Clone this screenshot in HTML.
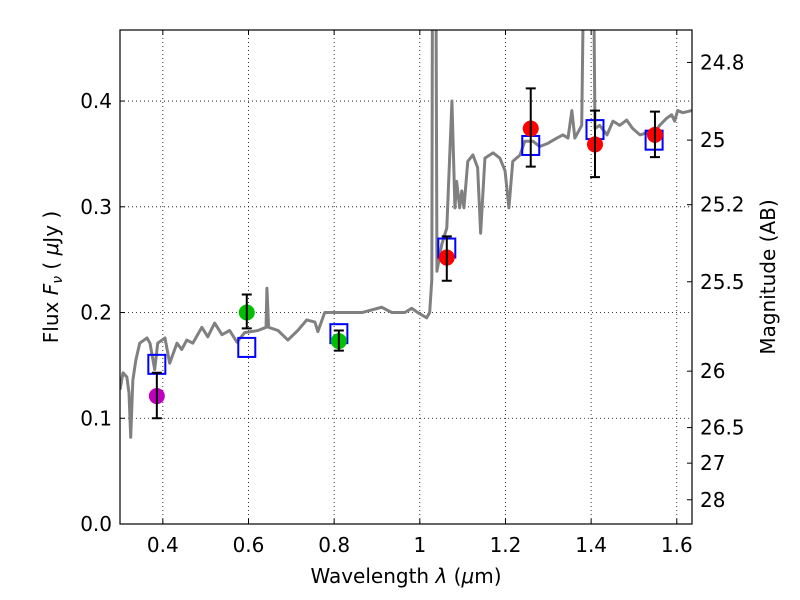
<!DOCTYPE html>
<html><head><meta charset="utf-8"><style>
html,body{margin:0;padding:0;background:#fff}
svg{display:block}
text{font-family:"DejaVu Sans","Liberation Sans",sans-serif;font-size:20px;fill:#000}
</style></head><body>
<svg id="chart" width="800" height="600" viewBox="0 0 800 600"></svg>
<script>
const specWave=[0.300,0.307,0.316,0.321,0.325,0.330,0.337,0.346,0.363,0.370,0.381,0.388,0.405,0.416,0.433,0.444,0.456,0.470,0.491,0.505,0.521,0.538,0.556,0.573,0.591,0.622,0.641,0.643,0.647,0.669,0.692,0.715,0.736,0.755,0.762,0.778,0.802,0.832,0.865,0.911,0.935,0.965,0.981,0.995,1.016,1.023,1.028,1.030,1.037,1.040,1.051,1.063,1.075,1.082,1.086,1.093,1.098,1.103,1.112,1.124,1.135,1.142,1.152,1.171,1.187,1.199,1.208,1.217,1.234,1.245,1.264,1.280,1.299,1.320,1.334,1.346,1.355,1.362,1.378,1.385,1.404,1.409,1.420,1.437,1.451,1.467,1.483,1.497,1.514,1.530,1.544,1.560,1.577,1.588,1.595,1.602,1.614,1.635];
const specFlux=[0.127,0.143,0.139,0.124,0.082,0.136,0.155,0.171,0.176,0.171,0.146,0.171,0.176,0.152,0.171,0.165,0.174,0.171,0.186,0.177,0.190,0.179,0.183,0.172,0.181,0.183,0.186,0.223,0.186,0.183,0.174,0.183,0.193,0.191,0.182,0.200,0.200,0.200,0.200,0.205,0.200,0.200,0.204,0.200,0.195,0.200,0.231,0.6,0.6,0.239,0.264,0.280,0.400,0.299,0.324,0.299,0.315,0.299,0.343,0.349,0.337,0.275,0.346,0.351,0.346,0.334,0.299,0.343,0.349,0.362,0.362,0.357,0.360,0.365,0.368,0.365,0.391,0.365,0.377,0.6,0.6,0.374,0.377,0.368,0.381,0.377,0.382,0.374,0.368,0.370,0.368,0.377,0.384,0.387,0.381,0.391,0.389,0.391];
const obsWave=[0.386,0.596,0.811,1.063,1.259,1.409,1.549];
const obsFlux=[0.121,0.200,0.173,0.252,0.374,0.359,0.368];
const obsLo=[0.100,0.185,0.164,0.230,0.338,0.328,0.347];
const obsHi=[0.143,0.217,0.183,0.272,0.412,0.391,0.390];
const obsColor=["#bf00bf","#00bf00","#00bf00","#ff0000","#ff0000","#ff0000","#ff0000"];
const modelWave=[0.386,0.596,0.811,1.063,1.259,1.409,1.547];
const modelFlux=[0.151,0.167,0.180,0.261,0.358,0.373,0.363];
const xTicks=[0.4,0.6,0.8,1.0,1.2,1.4,1.6];
const xTickLabels=["0.4","0.6","0.8","1","1.2","1.4","1.6"];
const yTicks=[0,0.1,0.2,0.3,0.4];
const yTickLabels=["0.0","0.1","0.2","0.3","0.4"];
const magTicks=[24.8,25,25.2,25.5,26,26.5,27,28];
const magTickLabels=["24.8","25","25.2","25.5","26","26.5","27","28"];

const L=120,R=692,T=30,B=524,X0=0.3,X1=1.6355,Y0=0,Y1=0.4672;
const sx=v=>L+(v-X0)/(X1-X0)*(R-L);
const sy=v=>B-(v-Y0)/(Y1-Y0)*(B-T);
const svg=document.getElementById('chart');
const NS="http://www.w3.org/2000/svg";
function mk(tag,attrs,parent){const e=document.createElementNS(NS,tag);for(const k in attrs)e.setAttribute(k,attrs[k]);(parent||svg).appendChild(e);return e;}

const clip=mk('clipPath',{id:'pc'});mk('rect',{x:L,y:T,width:R-L,height:B-T},clip);
xTicks.forEach((t,i)=>{
  const g=mk('line',{x1:sx(t),x2:sx(t),y1:T,y2:B,stroke:'#000','stroke-width':0.8,'stroke-dasharray':'1,3'});
  
  
  mk('line',{x1:sx(t),x2:sx(t),y1:B,y2:B-5,stroke:'#000'});
  mk('line',{x1:sx(t),x2:sx(t),y1:T,y2:T+5,stroke:'#000'});
  const tx=mk('text',{x:sx(t),y:B+28,'text-anchor':'middle'});tx.textContent=xTickLabels[i];
  
  
});
yTicks.forEach((t,i)=>{
  if(t>0){const g=mk('line',{x1:L,x2:R,y1:sy(t),y2:sy(t),stroke:'#000','stroke-width':0.8,'stroke-dasharray':'1,3'});
  
  }
  mk('line',{x1:L,x2:L+5,y1:sy(t),y2:sy(t),stroke:'#000'});
  const tx=mk('text',{x:L-8,y:sy(t)+7,'text-anchor':'end'});tx.textContent=yTickLabels[i];
  
  
});
magTicks.forEach((m,i)=>{
  const f=Math.pow(10,(23.9-m)/2.5);const y=sy(f);
  mk('line',{x1:R,x2:R-5,y1:y,y2:y,stroke:'#000'});
  const tx=mk('text',{x:R+8,y:y+7,'text-anchor':'start'});tx.textContent=magTickLabels[i];
  
  
});
const gp=mk('g',{'clip-path':'url(#pc)'});
const sp=mk('polyline',{points:specWave.map((w,i)=>sx(w)+','+sy(specFlux[i])).join(' '),fill:'none',stroke:'#808080','stroke-width':3,'stroke-linejoin':'round'},gp);


modelWave.forEach((w,i)=>{
  const r=mk('rect',{x:sx(w)-8.5,y:sy(modelFlux[i])-9.5,width:17,height:19,fill:'none',stroke:'#0000ff','stroke-width':2},gp);
  
  
});
obsWave.forEach((w,i)=>{
  const x=sx(w);
  const c=mk('circle',{cx:x,cy:sy(obsFlux[i]),r:8,fill:obsColor[i]},gp);
  
  
  const e=mk('path',{d:`M${x},${sy(obsLo[i])}V${sy(obsHi[i])}M${x-5},${sy(obsLo[i])}h10M${x-5},${sy(obsHi[i])}h10`,stroke:'#000','stroke-width':2,fill:'none'},gp);
  
  
});
const fr=mk('rect',{x:L,y:T,width:R-L,height:B-T,fill:'none',stroke:'#000','stroke-width':1.2});


</script>
<svg style="position:absolute;left:0;top:0" width="800" height="600">
<text x="406" y="583" text-anchor="middle">Wavelength  <tspan font-style="italic">λ</tspan> (<tspan font-style="italic">μ</tspan>m)</text>
<text transform="translate(58,277) rotate(-90)" text-anchor="middle">Flux  <tspan font-style="italic">F</tspan><tspan font-style="italic" font-size="14" dy="4">ν</tspan><tspan dy="-4">  ( </tspan><tspan font-style="italic">μ</tspan>Jy )</text>
<text transform="translate(775,277) rotate(-90)" text-anchor="middle">Magnitude (AB)</text>
</svg>
</body></html>
